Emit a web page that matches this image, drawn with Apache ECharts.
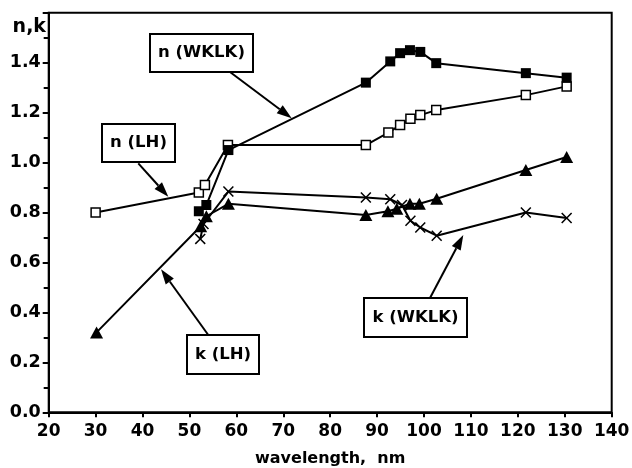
<!DOCTYPE html>
<html><head><meta charset="utf-8">
<script src="https://cdn.jsdelivr.net/npm/echarts@6/dist/echarts.min.js"></script>
<style>html,body{margin:0;padding:0;background:#fff}#c{width:632px;height:468px}</style>
</head><body><div id="c"></div>
<script>
// n (LH) - open squares
const nLH_x = [30, 52, 53.3, 58.2, 87.6, 92.4, 94.9, 97.1, 99.2, 102.6, 121.7, 130.4];
const nLH_y = [0.80, 0.88, 0.91, 1.07, 1.07, 1.12, 1.15, 1.175, 1.19, 1.21, 1.27, 1.305];
// n (WKLK) - filled squares
const nWKLK_x = [52, 53.6, 58.3, 87.6, 92.8, 94.9, 97.0, 99.2, 102.6, 121.7, 130.4];
const nWKLK_y = [0.805, 0.83, 1.05, 1.32, 1.405, 1.438, 1.45, 1.443, 1.398, 1.358, 1.34];
// k (LH) - filled triangles
const kLH_x = [30.2, 52.4, 53.6, 58.3, 87.6, 92.3, 94.2, 97.0, 99.0, 102.7, 121.7, 130.4];
const kLH_y = [0.32, 0.745, 0.785, 0.835, 0.79, 0.805, 0.815, 0.835, 0.835, 0.855, 0.97, 1.022];
// k (WKLK) - crosses
const kWKLK_x = [52.3, 53.0, 58.3, 87.6, 92.8, 95.3, 97.1, 99.2, 102.7, 121.7, 130.4];
const kWKLK_y = [0.694, 0.754, 0.884, 0.86, 0.853, 0.83, 0.767, 0.74, 0.707, 0.80, 0.778];

const annotations = ["n (WKLK)", "n (LH)", "k (LH)", "k (WKLK)"];

function pairs(xs, ys){ return xs.map((x,i)=>[x, ys[i]]); }

const FONT = 'DejaVu Sans';
const crossPath = 'path://M0,1 L1,0 L5,4 L9,0 L10,1 L6,5 L10,9 L9,10 L5,6 L1,10 L0,9 L4,5 Z';

function arrow(x1,y1,x2,y2){
  const dx=x2-x1, dy=y2-y1, L=Math.hypot(dx,dy), ux=dx/L, uy=dy/L;
  const hl=15, hw=5;
  const bx=x2-ux*hl, by=y2-uy*hl;
  return [
    {type:'line', shape:{x1:x1,y1:y1,x2:bx,y2:by}, style:{stroke:'#000', lineWidth:2}, z:50},
    {type:'polygon', shape:{points:[[x2,y2],[bx-uy*hw,by+ux*hw],[bx+uy*hw,by-ux*hw]]}, style:{fill:'#000'}, z:50}
  ];
}
function box(x,y,w,h,txt){
  return [
    {type:'rect', shape:{x:x,y:y,width:w,height:h}, style:{fill:'#fff', stroke:'#000', lineWidth:2}, z:60},
    {type:'text', x:x+w/2, y:y+h/2, style:{text:txt, fill:'#000', font:'bold 16.5px "'+FONT+'"', textAlign:'center', textVerticalAlign:'middle'}, z:61}
  ];
}

const baseSeries = {type:'line', symbolKeepAspect:true, lineStyle:{color:'#000', width:2}, itemStyle:{color:'#000'}, animation:false};

const option = {
  animation:false,
  backgroundColor:'#fff',
  grid:{left:48.7, right:20.3, top:12.7, bottom:55.7, containLabel:false, outerBoundsMode:'none',
    show:true, borderColor:'#000', borderWidth:2, backgroundColor:'transparent'},
  xAxis:{type:'value', min:20, max:140, interval:10,
    name:'wavelength,  nm', nameLocation:'middle', nameGap:39,
    nameTextStyle:{fontFamily:FONT, fontWeight:'bold', fontSize:16, color:'#000'},
    axisLine:{lineStyle:{color:'#000', width:2}}, axisTick:{length:5, lineStyle:{color:'#000', width:2}},
    axisLabel:{fontFamily:FONT, fontWeight:'bold', fontSize:17, color:'#000', margin:11},
    splitLine:{show:false}},
  yAxis:{type:'value', min:0, max:1.6, interval:0.2,
    axisLine:{show:true, lineStyle:{color:'#000', width:2}}, axisTick:{show:true, length:6, lineStyle:{color:'#000', width:2}},
    minorTick:{show:true, splitNumber:2, length:5, lineStyle:{color:'#000', width:2}},
    axisLabel:{fontFamily:FONT, fontWeight:'bold', fontSize:17.5, color:'#000', margin:8,
      formatter:v=> v>1.5 ? '' : v.toFixed(1)},
    splitLine:{show:false}},
  series:[
    Object.assign({}, baseSeries, {name:'n (LH)', data:pairs(nLH_x,nLH_y), symbol:'rect', symbolSize:9,
      itemStyle:{color:'#fff', borderColor:'#000', borderWidth:1.5}, z:3}),
    Object.assign({}, baseSeries, {name:'n (WKLK)', data:pairs(nWKLK_x,nWKLK_y), symbol:'rect', symbolSize:10, z:4}),
    Object.assign({}, baseSeries, {name:'k (LH)', data:pairs(kLH_x,kLH_y), symbol:'triangle', symbolSize:[13,12], z:3}),
    Object.assign({}, baseSeries, {name:'k (WKLK)', data:pairs(kWKLK_x,kWKLK_y), symbol:crossPath, symbolSize:11, z:4})
  ],
  graphic:[
    {type:'text', x:46, y:27, style:{text:'n,k', fill:'#000', font:'bold 19px "'+FONT+'"', textAlign:'right', textVerticalAlign:'middle'}},
    ...arrow(230,72,291.7,118.3),
    ...box(150,34,103,38,annotations[0]),
    ...arrow(138.3,163.3,168.3,196.7),
    ...box(102,124,73,38,annotations[1]),
    ...arrow(208.3,335,161,269.3),
    ...box(187,335,72,39,annotations[2]),
    ...arrow(430,298,463.3,235),
    ...box(364,298,103,39,annotations[3])
  ]
};
const chart = echarts.init(document.getElementById('c'), null, {renderer:'canvas'});
chart.setOption(option);
</script></body></html>
